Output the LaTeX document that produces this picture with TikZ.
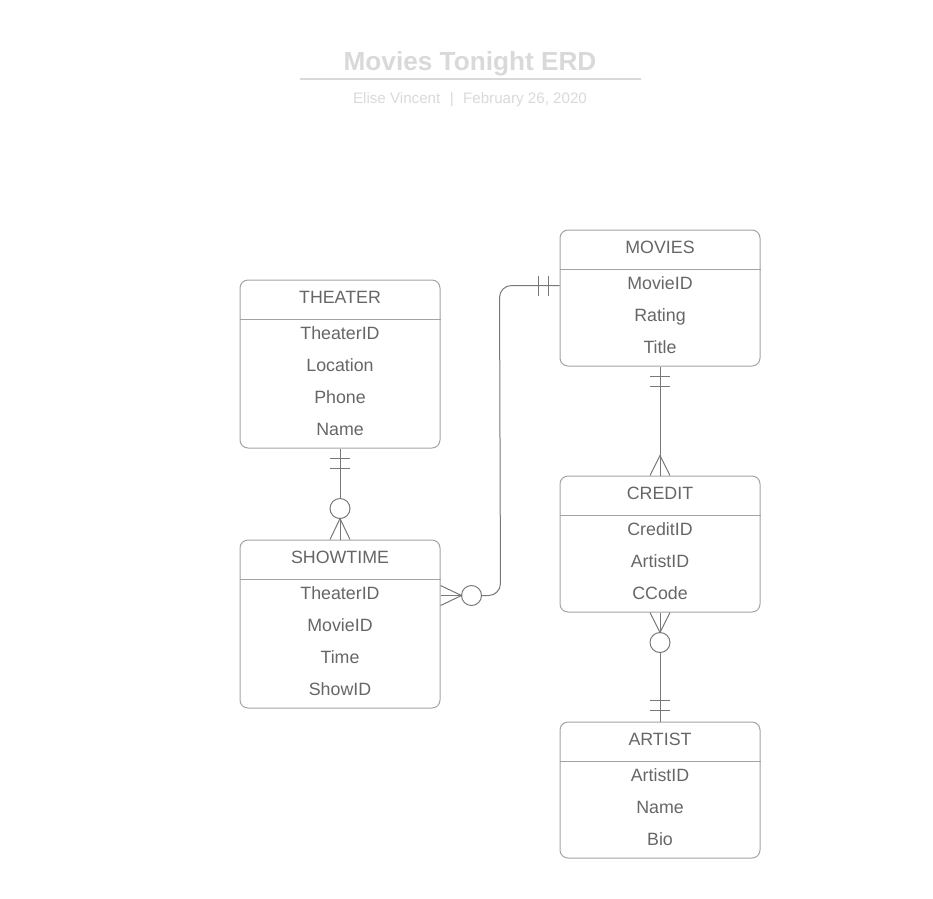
\documentclass[tikz,border=0pt]{standalone}
\usepackage{fontspec}
\setmainfont{Liberation Sans}
\usetikzlibrary{calc}
\definecolor{boxline}{HTML}{A3A3A3}
\definecolor{txt}{HTML}{666666}
\definecolor{conn}{HTML}{787878}
\definecolor{ttl}{HTML}{D9D9D9}
\begin{document}
\begin{tikzpicture}[x=1pt,y=-1pt,
  entity/.style={draw=boxline, line width=1pt, rounded corners=8pt, minimum width=200pt, inner sep=0pt},
  divider/.style={draw=boxline, line width=1pt},
  hdr/.style={text=txt, font=\fontsize{17.8}{20}\selectfont, anchor=base, inner sep=0pt},
  fld/.style={text=txt, font=\fontsize{17.8}{20}\selectfont, anchor=base, inner sep=0pt},
  conn/.style={draw=conn, line width=1pt},
  title/.style={text=ttl, font=\bfseries\fontsize{26.2}{30}\selectfont, anchor=base, inner sep=0pt},
  subtitle/.style={text=ttl, font=\fontsize{15.15}{18}\selectfont, anchor=base, inner sep=0pt}]
\useasboundingbox (0,0) rectangle (933,898);

% title
\node[title] (ttl) at (470,70.4) {Movies Tonight ERD};
\coordinate (ttlL) at (300,79);
\coordinate (ttlR) at (641,79);
\draw[ttl, line width=2pt] (ttlL) -- (ttlR);
\node[subtitle] (sub) at (470,103.4) {Elise Vincent\hspace{9.4pt}|\hspace{9.4pt}February 26, 2020};

% THEATER
\node[entity, minimum height=168pt] (theater) at (340,364) {};
\draw[divider] ($(theater.north west)+(0,40)$) -- ($(theater.north east)+(0,40)$);
\node[hdr] (theaterH) at (340,303.4) {THEATER};
\node[fld] (theater1) at (340,339.4) {TheaterID};
\node[fld] (theater2) at (340,371.4) {Location};
\node[fld] (theater3) at (340,403.4) {Phone};
\node[fld] (theater4) at (340,435.4) {Name};

% SHOWTIME
\node[entity, minimum height=168pt] (showtime) at (340,624) {};
\draw[divider] ($(showtime.north west)+(0,40)$) -- ($(showtime.north east)+(0,40)$);
\node[hdr] (showtimeH) at (340,563.4) {SHOWTIME};
\node[fld] (showtime1) at (340,599.4) {TheaterID};
\node[fld] (showtime2) at (340,631.4) {MovieID};
\node[fld] (showtime3) at (340,663.4) {Time};
\node[fld] (showtime4) at (340,695.4) {ShowID};

% MOVIES
\node[entity, minimum height=136pt] (movies) at (660,298) {};
\draw[divider] ($(movies.north west)+(0,40)$) -- ($(movies.north east)+(0,40)$);
\node[hdr] (moviesH) at (660,253.4) {MOVIES};
\node[fld] (movies1) at (660,289.4) {MovieID};
\node[fld] (movies2) at (660,321.4) {Rating};
\node[fld] (movies3) at (660,353.4) {Title};

% CREDIT
\node[entity, minimum height=136pt] (credit) at (660,544) {};
\draw[divider] ($(credit.north west)+(0,40)$) -- ($(credit.north east)+(0,40)$);
\node[hdr] (creditH) at (660,499.4) {CREDIT};
\node[fld] (credit1) at (660,535.4) {CreditID};
\node[fld] (credit2) at (660,567.4) {ArtistID};
\node[fld] (credit3) at (660,599.4) {CCode};

% ARTIST
\node[entity, minimum height=136pt] (artist) at (660,790) {};
\draw[divider] ($(artist.north west)+(0,40)$) -- ($(artist.north east)+(0,40)$);
\node[hdr] (artistH) at (660,745.4) {ARTIST};
\node[fld] (artist1) at (660,781.4) {ArtistID};
\node[fld] (artist2) at (660,813.4) {Name};
\node[fld] (artist3) at (660,845.4) {Bio};

% THEATER -- SHOWTIME (one and only one  --  zero or many)
\draw[conn] (theater.south) -- ($(showtime.north)+(0,-41)$);
\draw[conn] ($(theater.south)+(-10,10)$) -- ++(20,0);
\draw[conn] ($(theater.south)+(-10,20)$) -- ++(20,0);
\draw[conn] ($(showtime.north)+(0,-31)$) circle[radius=10];
\draw[conn] ($(showtime.north)+(-10,0)$) -- ($(showtime.north)+(0,-21)$) -- ($(showtime.north)+(10,0)$);
\draw[conn] ($(showtime.north)+(0,-21)$) -- (showtime.north);

% SHOWTIME -- MOVIES
\coordinate (stR) at ($(showtime.north east)+(0,56)$);
\coordinate (mvL) at ($(movies.north west)+(0,56)$);
\draw[conn] ($(stR)+(0,-10)$) -- ($(stR)+(21,0)$) -- ($(stR)+(0,10)$);
\draw[conn] (stR) -- ($(stR)+(21,0)$);
\draw[conn] ($(stR)+(31,0)$) circle[radius=10];
\draw[conn, rounded corners=12pt] ($(stR)+(41,0)$) -- ($(stR)+(60,0)$) -- ($(mvL)+(-60,0)$) -- (mvL);
\draw[conn] ($(mvL)+(-11,-10)$) -- ++(0,20);
\draw[conn] ($(mvL)+(-21,-10)$) -- ++(0,20);

% MOVIES -- CREDIT
\draw[conn] (movies.south) -- (credit.north);
\draw[conn] ($(movies.south)+(-10,10)$) -- ++(20,0);
\draw[conn] ($(movies.south)+(-10,20)$) -- ++(20,0);
\draw[conn] ($(credit.north)+(-10,0)$) -- ($(credit.north)+(0,-20)$) -- ($(credit.north)+(10,0)$);

% CREDIT -- ARTIST
\draw[conn] ($(credit.south)+(-10,0)$) -- ($(credit.south)+(0,20)$) -- ($(credit.south)+(10,0)$);
\draw[conn] (credit.south) -- ($(credit.south)+(0,20)$);
\draw[conn] ($(credit.south)+(0,30)$) circle[radius=10];
\draw[conn] ($(credit.south)+(0,40)$) -- (artist.north);
\draw[conn] ($(artist.north)+(-10,-11)$) -- ++(20,0);
\draw[conn] ($(artist.north)+(-10,-21)$) -- ++(20,0);
\end{tikzpicture}
\end{document}
